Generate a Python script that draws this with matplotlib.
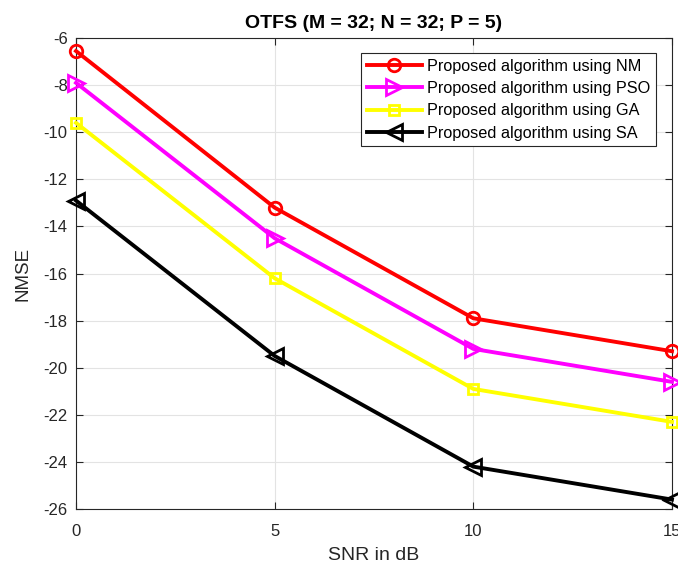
import matplotlib
matplotlib.use("Agg")
import matplotlib.pyplot as plt

plt.rcParams['font.family'] = ['Liberation Sans', 'DejaVu Sans']

snr = [0, 5, 10, 15]
nm = [-6.55, -13.2, -17.9, -19.3]
pso = [-7.9, -14.5, -19.2, -20.6]
ga = [-9.6, -16.2, -20.9, -22.3]
sa = [-12.9, -19.5, -24.2, -25.6]
labels = ['Proposed algorithm using NM', 'Proposed algorithm using PSO',
          'Proposed algorithm using GA', 'Proposed algorithm using SA']
xticks = [0, 5, 10, 15]
yticks = [-26, -24, -22, -20, -18, -16, -14, -12, -10, -8, -6]

fig = plt.figure(figsize=(6.78, 5.64), dpi=100)
ax = fig.add_axes([0.1121, 0.0975, 0.879, 0.835])

styles = [
    (nm, 'red', 'o', 9),
    (pso, 'magenta', '>', 11),
    (ga, 'yellow', 's', 6.5),
    (sa, 'black', '<', 11),
]
for (vals, c, m, ms), lab in zip(styles, labels):
    ax.plot(snr, vals, color=c, marker=m, markersize=ms, markerfacecolor='none',
            markeredgecolor=c, markeredgewidth=2, linewidth=2.8, label=lab,
            clip_on=False, zorder=3)

ax.set_xlim(0, 15)
ax.set_ylim(-26, -6)
ax.set_xticks(xticks)
ax.set_yticks(yticks)
ax.set_yticklabels([str(v) for v in yticks])
ax.grid(True, color='#e3e3e3', linewidth=0.8)
ax.set_axisbelow(True)
ax.tick_params(direction='in', top=True, right=True, labelsize=12, colors='#262626', length=5)
ax.tick_params(axis='x', pad=11)
ax.tick_params(axis='y', pad=6)
for s in ax.spines.values():
    s.set_color('#262626')
    s.set_linewidth(0.8)
ax.set_xlabel('SNR in dB', fontsize=14, color='#262626')
ax.set_ylabel('NMSE', fontsize=13.5, color='#262626')
ax.xaxis.set_label_coords(0.5, -0.081)
ax.yaxis.set_label_coords(-0.074, 0.5)
ax.set_title('OTFS (M = 32; N = 32; P = 5)', fontsize=14, fontweight='bold', color='black', pad=7)

leg = ax.legend(loc='upper right', bbox_to_anchor=(0.973, 0.968), fontsize=11.7,
                fancybox=False, edgecolor='#262626', framealpha=1,
                borderpad=0.35, labelspacing=0.45, handlelength=3.4, handletextpad=0.3,
                borderaxespad=0)
leg.get_frame().set_linewidth(0.8)

fig.savefig('out.png', dpi=100)
